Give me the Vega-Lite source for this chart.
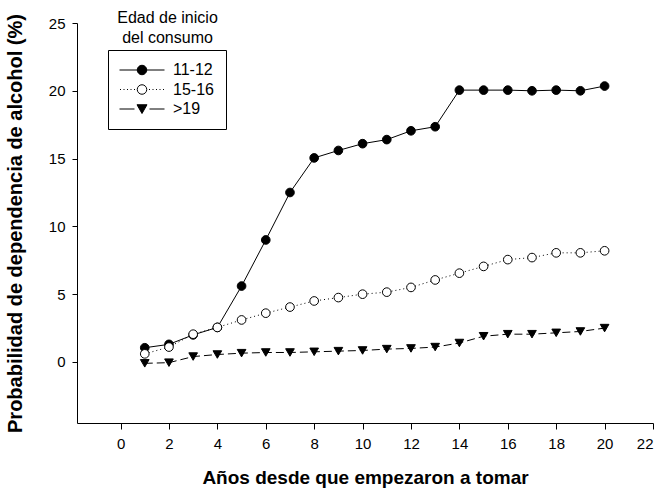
{
  "$schema": "https://vega.github.io/schema/vega-lite/v6.json",
  "autosize": {"type": "none"},
  "padding": {"left": 77, "top": 23, "right": 10, "bottom": 65},
  "width": 576,
  "height": 400,
  "background": "white",
  "config": {
    "view": {"stroke": null},
    "axis": {
      "grid": false,
      "domainColor": "black",
      "domainWidth": 1,
      "tickColor": "black",
      "tickWidth": 1,
      "labelFont": "Liberation Sans",
      "labelFontSize": 15,
      "labelColor": "black",
      "titleFont": "Liberation Sans",
      "titleFontSize": 19,
      "titleFontWeight": "bold",
      "titleColor": "black"
    }
  },
  "datasets": {
    "series": [
      {"years": 1, "prob": 1.05, "group": "11-12"},
      {"years": 2, "prob": 1.3, "group": "11-12"},
      {"years": 3, "prob": 2.0, "group": "11-12"},
      {"years": 4, "prob": 2.55, "group": "11-12"},
      {"years": 5, "prob": 5.6, "group": "11-12"},
      {"years": 6, "prob": 9.0, "group": "11-12"},
      {"years": 7, "prob": 12.5, "group": "11-12"},
      {"years": 8, "prob": 15.05, "group": "11-12"},
      {"years": 9, "prob": 15.6, "group": "11-12"},
      {"years": 10, "prob": 16.1, "group": "11-12"},
      {"years": 11, "prob": 16.4, "group": "11-12"},
      {"years": 12, "prob": 17.05, "group": "11-12"},
      {"years": 13, "prob": 17.35, "group": "11-12"},
      {"years": 14, "prob": 20.05, "group": "11-12"},
      {"years": 15, "prob": 20.05, "group": "11-12"},
      {"years": 16, "prob": 20.05, "group": "11-12"},
      {"years": 17, "prob": 20.0, "group": "11-12"},
      {"years": 18, "prob": 20.05, "group": "11-12"},
      {"years": 19, "prob": 20.0, "group": "11-12"},
      {"years": 20, "prob": 20.35, "group": "11-12"},
      {"years": 1, "prob": 0.6, "group": "15-16"},
      {"years": 2, "prob": 1.1, "group": "15-16"},
      {"years": 3, "prob": 2.05, "group": "15-16"},
      {"years": 4, "prob": 2.55, "group": "15-16"},
      {"years": 5, "prob": 3.1, "group": "15-16"},
      {"years": 6, "prob": 3.6, "group": "15-16"},
      {"years": 7, "prob": 4.05, "group": "15-16"},
      {"years": 8, "prob": 4.5, "group": "15-16"},
      {"years": 9, "prob": 4.75, "group": "15-16"},
      {"years": 10, "prob": 5.0, "group": "15-16"},
      {"years": 11, "prob": 5.15, "group": "15-16"},
      {"years": 12, "prob": 5.5, "group": "15-16"},
      {"years": 13, "prob": 6.05, "group": "15-16"},
      {"years": 14, "prob": 6.55, "group": "15-16"},
      {"years": 15, "prob": 7.05, "group": "15-16"},
      {"years": 16, "prob": 7.55, "group": "15-16"},
      {"years": 17, "prob": 7.7, "group": "15-16"},
      {"years": 18, "prob": 8.05, "group": "15-16"},
      {"years": 19, "prob": 8.05, "group": "15-16"},
      {"years": 20, "prob": 8.2, "group": "15-16"},
      {"years": 1, "prob": -0.1, "group": ">19"},
      {"years": 2, "prob": -0.05, "group": ">19"},
      {"years": 3, "prob": 0.4, "group": ">19"},
      {"years": 4, "prob": 0.55, "group": ">19"},
      {"years": 5, "prob": 0.65, "group": ">19"},
      {"years": 6, "prob": 0.7, "group": ">19"},
      {"years": 7, "prob": 0.7, "group": ">19"},
      {"years": 8, "prob": 0.75, "group": ">19"},
      {"years": 9, "prob": 0.8, "group": ">19"},
      {"years": 10, "prob": 0.85, "group": ">19"},
      {"years": 11, "prob": 0.95, "group": ">19"},
      {"years": 12, "prob": 1.0, "group": ">19"},
      {"years": 13, "prob": 1.1, "group": ">19"},
      {"years": 14, "prob": 1.4, "group": ">19"},
      {"years": 15, "prob": 1.9, "group": ">19"},
      {"years": 16, "prob": 2.05, "group": ">19"},
      {"years": 17, "prob": 2.05, "group": ">19"},
      {"years": 18, "prob": 2.15, "group": ">19"},
      {"years": 19, "prob": 2.25, "group": ">19"},
      {"years": 20, "prob": 2.5, "group": ">19"}
    ],
    "legendTitle": [{"label": "Edad de inicio del consumo"}]
  },
  "layer": [
    {
      "data": {"name": "series"},
      "transform": [{"filter": "datum.group === '11-12'"}],
      "mark": {"type": "line", "color": "black", "strokeWidth": 1},
      "encoding": {
        "x": {
          "field": "years", "type": "quantitative",
          "scale": {"domain": [-1.8, 22], "nice": false, "zero": false},
          "axis": {"values": [0, 2, 4, 6, 8, 10, 12, 14, 16, 18, 20, 22], "tickSize": 6, "labelPadding": 7, "titlePadding": 17, "title": "Años desde que empezaron a tomar"}
        },
        "y": {
          "field": "prob", "type": "quantitative",
          "scale": {"domain": [-4.5, 25], "nice": false, "zero": false},
          "axis": {"values": [0, 5, 10, 15, 20, 25], "tickSize": 5, "labelPadding": 7, "titlePadding": 23, "titleFontSize": 20, "title": "Probabilidad de dependencia de alcohol (%)"}
        }
      }
    },
    {
      "data": {"name": "series"},
      "transform": [{"filter": "datum.group === '15-16'"}],
      "mark": {"type": "line", "color": "black", "strokeWidth": 1, "strokeDash": [1, 3]},
      "encoding": {
        "x": {"field": "years", "type": "quantitative"},
        "y": {"field": "prob", "type": "quantitative"}
      }
    },
    {
      "data": {"name": "series"},
      "transform": [{"filter": "datum.group === '>19'"}],
      "mark": {"type": "line", "color": "black", "strokeWidth": 1, "strokeDash": [8, 4]},
      "encoding": {
        "x": {"field": "years", "type": "quantitative"},
        "y": {"field": "prob", "type": "quantitative"}
      }
    },
    {
      "data": {"name": "series"},
      "transform": [{"filter": "datum.group === '11-12'"}],
      "mark": {"type": "point", "shape": "circle", "filled": true, "fill": "black", "stroke": "black", "strokeWidth": 1, "opacity": 1, "size": 75},
      "encoding": {
        "x": {"field": "years", "type": "quantitative"},
        "y": {"field": "prob", "type": "quantitative"}
      }
    },
    {
      "data": {"name": "series"},
      "transform": [{"filter": "datum.group === '15-16'"}],
      "mark": {"type": "point", "shape": "circle", "filled": true, "fill": "white", "stroke": "black", "strokeWidth": 1, "opacity": 1, "size": 75},
      "encoding": {
        "x": {"field": "years", "type": "quantitative"},
        "y": {"field": "prob", "type": "quantitative"}
      }
    },
    {
      "data": {"name": "series"},
      "transform": [{"filter": "datum.group === '>19'"}],
      "mark": {"type": "point", "shape": "triangle-down", "filled": true, "fill": "black", "stroke": "black", "strokeWidth": 1, "opacity": 1, "size": 75},
      "encoding": {
        "x": {"field": "years", "type": "quantitative"},
        "y": {"field": "prob", "type": "quantitative"}
      }
    },
    {
      "data": {"name": "series"},
      "mark": {"type": "point", "filled": true, "strokeWidth": 1, "opacity": 0, "size": 100},
      "encoding": {
        "x": {"field": "years", "type": "quantitative"},
        "y": {"field": "prob", "type": "quantitative"},
        "fill": {
          "field": "group", "type": "nominal",
          "scale": {"domain": ["11-12", "15-16", ">19"], "range": ["black", "white", "black"]}
        },
        "stroke": {
          "field": "group", "type": "nominal",
          "scale": {"domain": ["11-12", "15-16", ">19"], "range": ["black", "black", "black"]}
        },
        "shape": {
          "field": "group", "type": "nominal",
          "scale": {
            "domain": ["11-12", "15-16", ">19"],
            "range": [
              "M-4.5,0H4.5M-0.95,0A0.95,0.95 0 1,0 0.95,0A0.95,0.95 0 1,0 -0.95,0Z",
              "M-4.4,0h0.2M-3.7,0h0.2M-3.0,0h0.2M-2.3,0h0.2M-1.6,0h0.2M1.4,0h0.2M2.1,0h0.2M2.8,0h0.2M3.5,0h0.2M4.2,0h0.2M-0.95,0A0.95,0.95 0 1,0 0.95,0A0.95,0.95 0 1,0 -0.95,0Z",
              "M-4.5,0H-1.5M1.5,0H4.5M-1,-0.85L1,-0.85L0,0.9Z"
            ]
          },
          "legend": {
            "title": null,
            "orient": "none",
            "legendX": 31,
            "legendY": 27,
            "strokeColor": "black",
            "padding": 12,
            "symbolSize": 100,
            "symbolOpacity": 1,
            "symbolStrokeWidth": 1,
            "symbolOffset": 14,
            "labelOffset": 23,
            "labelFont": "Liberation Sans",
            "labelFontSize": 16,
            "labelColor": "black",
            "rowPadding": 3.5,
            "labelExpr": "datum.label + '\u00a0\u00a0'"
          }
        }
      }
    },
    {
      "data": {"name": "legendTitle"},
      "mark": {"type": "text", "text": ["Edad de inicio", "del consumo"], "font": "Liberation Sans", "fontSize": 16, "lineHeight": 20, "align": "center", "baseline": "middle", "color": "black"},
      "encoding": {
        "x": {"datum": 1.94, "type": "quantitative"},
        "y": {"datum": 25.35, "type": "quantitative"}
      }
    }
  ]
}
